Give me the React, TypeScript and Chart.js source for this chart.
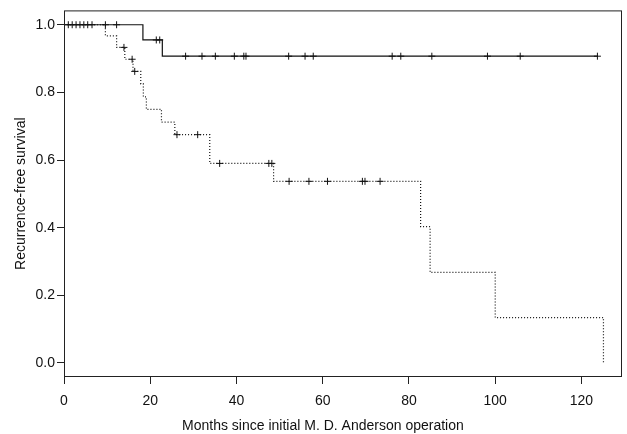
import { useEffect, useRef } from 'react';
import { Chart, registerables } from 'chart.js';

Chart.register(...registerables);

// ---- data ----
const xTickValues = [0, 20, 40, 60, 80, 100, 120];
const yTickValues = [0.0, 0.2, 0.4, 0.6, 0.8, 1.0];
const xAxisTitle = 'Months since initial M. D. Anderson operation';
const yAxisTitle = 'Recurrence-free survival';

// Solid curve (Kaplan-Meier steps)
const solidTimes = [0, 18.3, 22.8, 123.8];
const solidSurvival = [1.0, 0.955, 0.907, 0.907];
// Solid curve censor marks
const solidCensorTimes = [1.0, 1.9, 2.8, 3.7, 4.6, 5.5, 6.5, 9.6, 12.2, 21.4, 22.2, 28.2, 32.0, 35.1, 39.5, 41.7, 42.2, 52.1, 55.9, 57.8, 76.1, 78.1, 85.3, 98.2, 105.8, 123.7];
const solidCensorSurvival = [1.0, 1.0, 1.0, 1.0, 1.0, 1.0, 1.0, 1.0, 1.0, 0.955, 0.955, 0.907, 0.907, 0.907, 0.907, 0.907, 0.907, 0.907, 0.907, 0.907, 0.907, 0.907, 0.907, 0.907, 0.907, 0.907];

// Dotted curve (Kaplan-Meier steps)
const dottedTimes = [0, 9.6, 12.2, 14.1, 16.0, 17.8, 18.4, 19.1, 22.6, 25.7, 33.8, 48.6, 82.7, 84.9, 100.0, 125.1];
const dottedSurvival = [1.0, 0.967, 0.933, 0.898, 0.862, 0.825, 0.787, 0.750, 0.712, 0.675, 0.590, 0.537, 0.403, 0.268, 0.134, 0.0];
// Dotted curve censor marks
const dottedCensorTimes = [13.9, 15.8, 16.4, 26.2, 31.0, 36.1, 47.5, 48.2, 52.2, 56.8, 61.1, 69.2, 69.8, 73.3];
const dottedCensorSurvival = [0.933, 0.898, 0.862, 0.675, 0.675, 0.590, 0.590, 0.590, 0.537, 0.537, 0.537, 0.537, 0.537, 0.537];

const FONT = '"Liberation Sans", Arial, Helvetica, sans-serif';
const INK = '#111';

const toPoints = (xs: number[], ys: number[]) => xs.map((x, i) => ({ x, y: ys[i] }));

const framePlugin = {
  id: 'frameAndTitles',
  afterDraw(chart: any) {
    const { ctx, chartArea: a } = chart;
    ctx.save();
    ctx.strokeStyle = '#222';
    ctx.lineWidth = 1;
    ctx.strokeRect(a.left + 0.5, a.top + 0.5, a.right - a.left - 1, a.bottom - a.top - 1);

    ctx.fillStyle = INK;
    ctx.font = `14px ${FONT}`;
    ctx.textAlign = 'center';
    ctx.textBaseline = 'alphabetic';
    ctx.fillText(xAxisTitle, a.left + (a.right - a.left) * 0.464, a.bottom + 53);

    ctx.translate(25, (a.top + a.bottom) / 2);
    ctx.rotate(-Math.PI / 2);
    ctx.fillText(yAxisTitle, 0, 0);
    ctx.restore();
  },
};

export default function App() {
  const ref = useRef<HTMLCanvasElement | null>(null);

  useEffect(() => {
    if (!ref.current) return;
    const chart = new Chart(ref.current, {
      type: 'line',
      data: {
        datasets: [
          {
            type: 'line',
            data: toPoints(solidTimes, solidSurvival),
            stepped: 'before',
            borderColor: '#111',
            borderWidth: 1.2,
            pointRadius: 0,
            fill: false,
          },
          {
            type: 'line',
            data: toPoints(dottedTimes, dottedSurvival),
            stepped: 'before',
            borderColor: '#111',
            borderWidth: 1.2,
            borderDash: [1, 2],
            pointRadius: 0,
            fill: false,
          },
          {
            type: 'scatter',
            data: toPoints(solidCensorTimes, solidCensorSurvival),
            pointStyle: 'cross',
            pointRadius: 3.5,
            borderColor: '#111',
            borderWidth: 1,
            showLine: false,
          },
          {
            type: 'scatter',
            data: toPoints(dottedCensorTimes, dottedCensorSurvival),
            pointStyle: 'cross',
            pointRadius: 3.5,
            borderColor: '#111',
            borderWidth: 1,
            showLine: false,
          },
        ] as any,
      },
      options: {
        animation: false,
        responsive: false,
        devicePixelRatio: 1,
        layout: { padding: { left: 0, right: 3, top: 6, bottom: 0 } },
        plugins: {
          legend: { display: false },
          tooltip: { enabled: false },
        },
        scales: {
          x: {
            type: 'linear',
            min: 0,
            max: 129.4,
            afterFit: (s: any) => { s.height = 57; },
            afterBuildTicks: (s: any) => { s.ticks = xTickValues.map((v) => ({ value: v })); },
            border: { display: false },
            grid: { drawOnChartArea: false, drawTicks: true, tickLength: 7, tickColor: '#222' },
            ticks: {
              autoSkip: false,
              maxRotation: 0,
              padding: 9,
              color: INK,
              font: { family: FONT, size: 14 },
              callback: (v: any) => String(v),
            },
          },
          y: {
            type: 'linear',
            min: -0.0415,
            max: 1.0424,
            afterFit: (s: any) => { s.width = 64; },
            afterBuildTicks: (s: any) => { s.ticks = yTickValues.map((v) => ({ value: v })); },
            border: { display: false },
            grid: { drawOnChartArea: false, drawTicks: true, tickLength: 7, tickColor: '#222' },
            ticks: {
              autoSkip: false,
              padding: 2,
              color: INK,
              font: { family: FONT, size: 14 },
              callback: (v: any) => Number(v).toFixed(1),
            },
          },
        },
      },
      plugins: [framePlugin],
    });
    return () => chart.destroy();
  }, []);

  return (
    <div style={{ position: 'fixed', left: 0, top: 0, width: 627, height: 434, background: '#fff' }}>
      <canvas ref={ref} width={627} height={434} />
    </div>
  );
}
